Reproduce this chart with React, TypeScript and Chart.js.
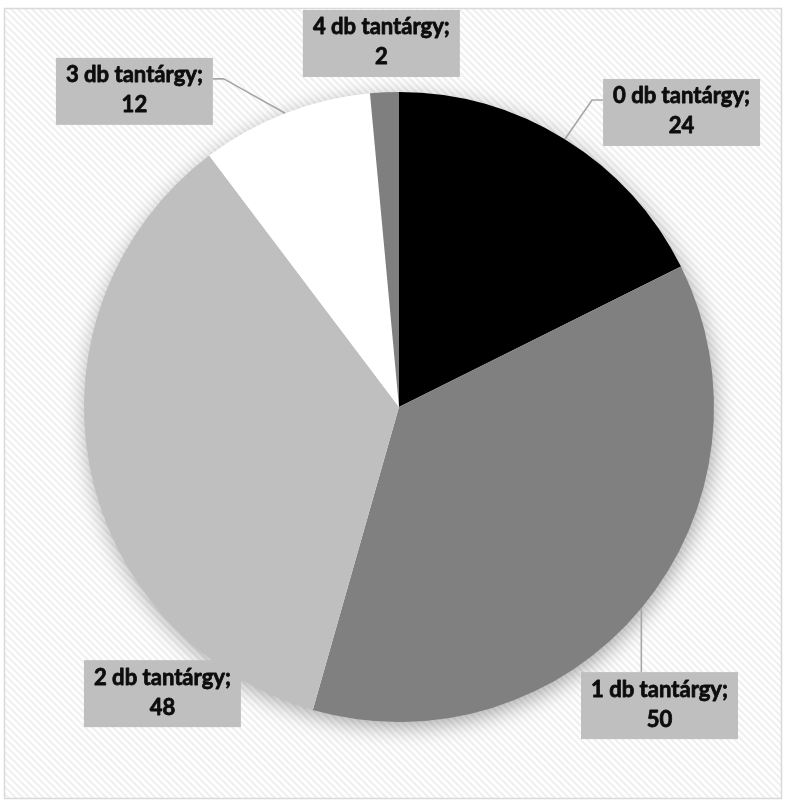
import React, { useEffect, useRef } from "react";
import { Chart, registerables } from "chart.js";
Chart.register(...registerables);

const categories = ["0 db tantárgy", "1 db tantárgy", "2 db tantárgy", "3 db tantárgy", "4 db tantárgy"];
const values = [24, 50, 48, 12, 2];
const sliceColors = ["#000000", "#808080", "#bfbfbf", "#ffffff", "#7f7f7f"];

// label box placement relative to pie centre, in units of the pie radius
const labelOffsets = [
  { dx: 0.897, dy: -0.935, leader: "side" },
  { dx: 0.827, dy: 0.948, leader: "top" },
  { dx: -0.751, dy: 0.91, leader: "none" },
  { dx: -0.84, dy: -1.002, leader: "side" },
  { dx: -0.056, dy: -1.154, leader: "none" },
];

const W = 785;
const H = 803;

const decorPlugin = {
  id: "decor",
  beforeDraw(chart: any) {
    const ctx = chart.ctx as CanvasRenderingContext2D;
    ctx.save();
    ctx.fillStyle = "#ffffff";
    ctx.fillRect(0, 0, W, H);
    const fx = 4, fy = 8, fw = 777, fh = 790;
    ctx.beginPath();
    ctx.rect(fx, fy, fw, fh);
    ctx.clip();
    ctx.strokeStyle = "#f0f0f0";
    ctx.lineWidth = 2.2;
    for (let k = -H; k < W + H; k += 7) {
      ctx.beginPath();
      ctx.moveTo(k, 0);
      ctx.lineTo(k + H, H);
      ctx.stroke();
    }
    ctx.restore();
    ctx.save();
    ctx.strokeStyle = "#d9d9d9";
    ctx.lineWidth = 1.5;
    ctx.strokeRect(fx + 0.5, fy + 0.5, fw, fh);
    ctx.restore();
  },
  beforeDatasetsDraw(chart: any) {
    const arc = chart.getDatasetMeta(0).data[0];
    if (!arc) return;
    const { x, y, outerRadius } = arc.getProps(["x", "y", "outerRadius"], true);
    const ctx = chart.ctx as CanvasRenderingContext2D;
    ctx.save();
    ctx.shadowColor = "rgba(0,0,0,0.35)";
    ctx.shadowBlur = 22;
    ctx.shadowOffsetX = 2;
    ctx.shadowOffsetY = 5;
    ctx.fillStyle = "#ffffff";
    ctx.beginPath();
    ctx.arc(x, y, outerRadius - 1, 0, Math.PI * 2);
    ctx.fill();
    ctx.restore();
  },
  afterDatasetsDraw(chart: any) {
    const ctx = chart.ctx as CanvasRenderingContext2D;
    const meta = chart.getDatasetMeta(0);
    ctx.save();
    let fs = 20;
    ctx.font = `bold ${fs}px Lato`;
    const m = ctx.measureText("0 db tantárgy;").width;
    fs = (fs * 137) / m;
    const font = `bold ${fs.toFixed(2)}px Lato`;
    const bw = 157, bh = 67;
    meta.data.forEach((el: any, i: number) => {
      const { x, y, startAngle, endAngle, outerRadius } = el.getProps(
        ["x", "y", "startAngle", "endAngle", "outerRadius"],
        true
      );
      const mid = (startAngle + endAngle) / 2;
      const px = x + Math.cos(mid) * outerRadius;
      const py = y + Math.sin(mid) * outerRadius;
      const off = labelOffsets[i];
      const cx = x + off.dx * outerRadius;
      const cy = y + off.dy * outerRadius;
      const bx = cx - bw / 2, by = cy - bh / 2;
      ctx.strokeStyle = "#a6a6a6";
      ctx.lineWidth = 1.6;
      if (off.leader === "side") {
        const right = px > cx;
        const ex = right ? bx + bw : bx;
        const ey = by + 21;
        const kx = right ? ex + 11 : ex - 11;
        ctx.beginPath();
        ctx.moveTo(ex, ey);
        ctx.lineTo(kx, ey);
        ctx.lineTo(px, py);
        ctx.stroke();
      } else if (off.leader === "top") {
        ctx.beginPath();
        ctx.moveTo(px, py);
        ctx.lineTo(px, by);
        ctx.stroke();
      }
      ctx.fillStyle = "#bfbfbf";
      ctx.fillRect(bx, by, bw, bh);
      ctx.fillStyle = "#0d0d0d";
      ctx.strokeStyle = "#0d0d0d";
      ctx.lineWidth = 0.8;
      ctx.lineJoin = "round";
      ctx.font = font;
      ctx.textAlign = "center";
      ctx.textBaseline = "alphabetic";
      const l1 = categories[i] + ";";
      const l2 = String(values[i]);
      ctx.fillText(l1, cx, cy - 9);
      ctx.strokeText(l1, cx, cy - 9);
      ctx.fillText(l2, cx, cy + 21);
      ctx.strokeText(l2, cx, cy + 21);
    });
    ctx.restore();
  },
};

export default function App() {
  const ref = useRef<HTMLCanvasElement | null>(null);
  useEffect(() => {
    document.body.style.margin = "0";
    if (!ref.current) return;
    const chart = new Chart(ref.current, {
      type: "pie",
      data: {
        labels: categories,
        datasets: [
          {
            data: values,
            backgroundColor: sliceColors,
            borderWidth: 0,
          },
        ],
      },
      options: {
        responsive: false,
        animation: false,
        devicePixelRatio: 1,
        layout: { padding: { left: 84, right: 71, top: 92, bottom: 81 } },
        plugins: {
          legend: { display: false },
          tooltip: { enabled: false },
        },
      },
      plugins: [decorPlugin],
    });
    return () => chart.destroy();
  }, []);
  return (
    <div style={{ width: W, height: H }}>
      <canvas ref={ref} width={W} height={H} style={{ display: "block", width: W, height: H }} />
    </div>
  );
}
